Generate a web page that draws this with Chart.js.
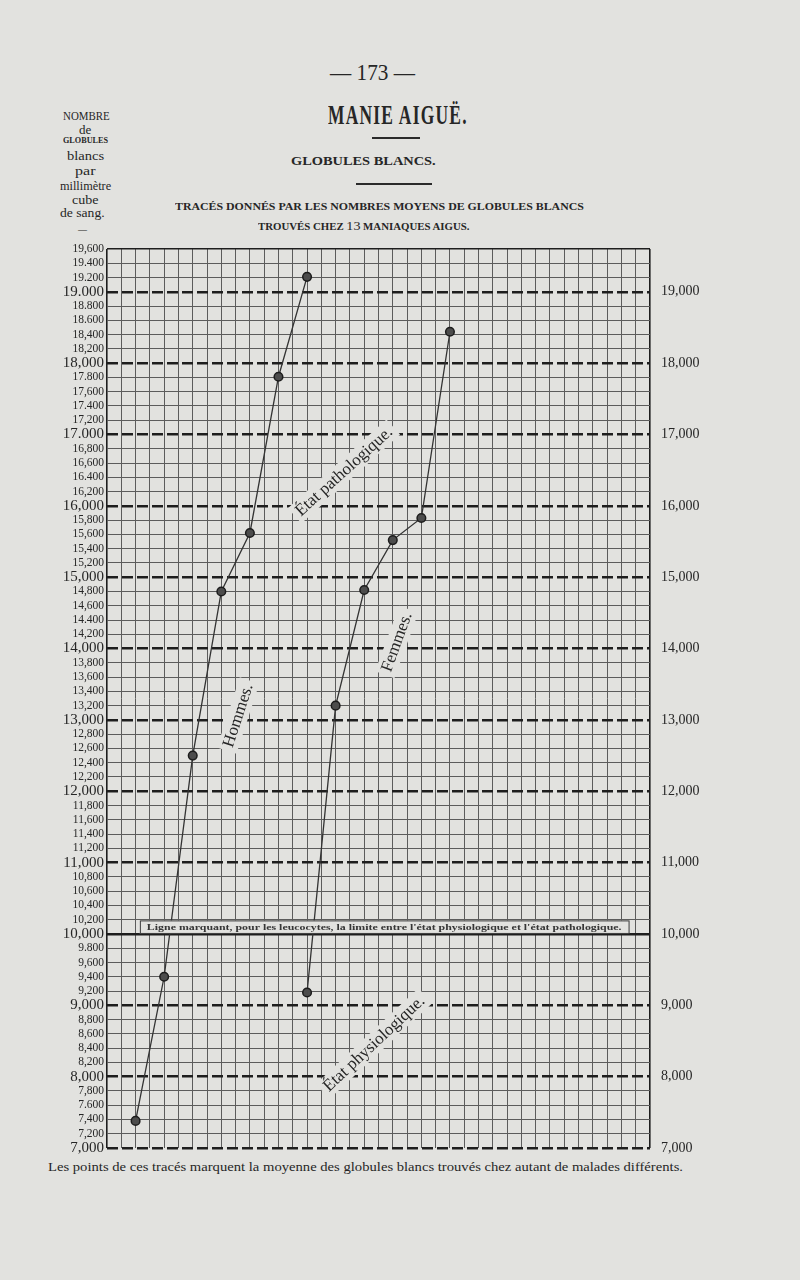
<!DOCTYPE html>
<html>
<head>
<meta charset="utf-8">
<script src="https://cdn.jsdelivr.net/npm/chart.js@4.4.0/dist/chart.umd.min.js"></script>
<style>
html, body { margin: 0; padding: 0; background: #e2e2df; }
body { width: 800px; height: 1280px; position: relative; overflow: hidden;
       font-family: "Liberation Serif", "DejaVu Serif", serif; color: #262626; }
.t { position: absolute; white-space: nowrap; line-height: 1; transform-origin: left top; }
.b { font-weight: bold; }
.rule { position: absolute; height: 1.5px; background: #2a2a2a; }
#chartBox { position: absolute; left: 0; top: 0; width: 800px; height: 1280px; }
</style>
</head>
<body>

<div class="t" data-x="330" data-y="61" data-w="85" style="font-size:23px">— 173 —</div>

<div class="t" data-x="63" data-y="109" data-w="47" style="font-size:13px">NOMBRE</div>
<div class="t" data-x="79" data-y="123" data-w="12" style="font-size:13px">de</div>
<div class="t b" data-x="63" data-y="137" data-w="45" style="font-size:8px">GLOBULES</div>
<div class="t" data-x="67" data-y="149" data-w="37" style="font-size:13px">blancs</div>
<div class="t" data-x="75" data-y="164" data-w="21" style="font-size:13px">par</div>
<div class="t" data-x="60" data-y="179" data-w="51" style="font-size:13px">millimètre</div>
<div class="t" data-x="72" data-y="193" data-w="27" style="font-size:13px">cube</div>
<div class="t" data-x="60" data-y="206" data-w="45" style="font-size:13px">de sang.</div>
<div class="t" data-x="78" data-y="223" data-w="9" style="font-size:12px">—</div>

<div class="t b" data-x="328" data-y="101" data-w="140" style="font-size:28px;letter-spacing:2px">MANIE AIGUË.</div>
<div class="rule" style="left:372px;top:137px;width:48px"></div>
<div class="t b" data-x="291" data-y="155" data-w="145" style="font-size:12px">GLOBULES BLANCS.</div>
<div class="rule" style="left:356px;top:183px;width:76px"></div>
<div class="t b" data-x="175" data-y="202" data-w="409" style="font-size:10px">TRACÉS DONNÉS PAR LES NOMBRES MOYENS DE GLOBULES BLANCS</div>
<div class="t b" data-x="258" data-y="219" data-w="212" style="font-size:10px">TROUVÉS CHEZ <span style="font-size:13px;font-weight:normal">13</span> MANIAQUES AIGUS.</div>

<div class="t" data-x="48" data-y="1160" data-w="635" style="font-size:13px">Les points de ces tracés marquent la moyenne des globules blancs trouvés chez autant de malades différents.</div>

<div id="chartBox"><canvas id="chart"></canvas></div>

<script>
// columns of the ruled paper (2 squares between each patient mean)
var hommesCols = [2, 4, 6, 8, 10, 12, 14];
var hommesValues = [7380, 9400, 12500, 14800, 15620, 17810, 19210];
var femmesCols = [14, 16, 18, 20, 22, 24];
var femmesValues = [9180, 13200, 14820, 15520, 15830, 18440];

var leftTickLabels = [
    '7,000', '7,200', '7,400', '7.600', '7,800', '8,000', '8,200', '8,400', '8,600', '8,800',
    '9,000', '9,200', '9,400', '9,600', '9.800', '10,000', '10,200', '10,400', '10,600', '10,800',
    '11,000', '11,200', '11,400', '11,600', '11,800', '12,000', '12,200', '12,400', '12,600', '12,800',
    '13,000', '13,200', '13,400', '13,600', '13,800', '14,000', '14,200', '14.400', '14,600', '14,800',
    '15,000', '15,200', '15,400', '15,600', '15,800', '16,000', '16,200', '16.400', '16,600', '16,800',
    '17.000', '17,200', '17.400', '17,600', '17.800', '18,000', '18,200', '18,400', '18.600', '18.800',
    '19.000', '19.200', '19.400', '19,600'
];
var rightTickValues = [7000, 8000, 9000, 10000, 11000, 12000, 13000, 14000, 15000, 16000, 17000, 18000, 19000];
var rightTickLabels = ['7,000', '8,000', '9,000', '10,000', '11,000', '12,000', '13,000', '14,000',
    '15,000', '16,000', '17,000', '18,000', '19,000'];

var notes = [
    {text: 'État pathologique.', col: 16.6, val: 16480, angle: -42, size: 17},
    {text: 'Hommes.', col: 9.2, val: 13060, angle: -72, size: 17},
    {text: 'Femmes.', col: 20.3, val: 14090, angle: -70, size: 17},
    {text: 'État physiologique.', col: 18.7, val: 8460, angle: -43, size: 17}
];
var limitNote = {
    text: "Ligne marquant, pour les leucocytes, la limite entre l'état physiologique et l'état pathologique.",
    fromCol: 2.3, toCol: 36.5, lowVal: 10000, highVal: 10190
};

var paper = '#e2e2df';
var ink = '#262626';
var serif = '"Liberation Serif", "DejaVu Serif", serif';

// scale each text line to its width on the page
document.querySelectorAll('.t').forEach(function (el) {
    el.style.left = el.dataset.x + 'px';
    el.style.top = el.dataset.y + 'px';
    var w = el.offsetWidth;
    if (w > 0) el.style.transform = 'scaleX(' + (el.dataset.w / w) + ')';
});

function toPoints(cols, values) {
    var pts = [];
    cols.forEach(function (c, i) { pts.push({x: c, y: values[i]}); });
    return pts;
}

var notesPlugin = {
    id: 'notes',
    afterDatasetsDraw: function (chart) {
        var ctx = chart.ctx;
        var xs = chart.scales.x, ys = chart.scales.y;
        ctx.save();
        notes.forEach(function (n) {
            ctx.save();
            ctx.translate(xs.getPixelForValue(n.col), ys.getPixelForValue(n.val));
            ctx.rotate(n.angle * Math.PI / 180);
            ctx.font = n.size + 'px ' + serif;
            var w = ctx.measureText(n.text).width;
            ctx.fillStyle = paper;
            ctx.fillRect(-w / 2 - 4, -n.size * 0.62, w + 8, n.size * 1.2);
            ctx.fillStyle = ink;
            ctx.textAlign = 'center';
            ctx.textBaseline = 'middle';
            ctx.fillText(n.text, 0, 0);
            ctx.restore();
        });

        // the boxed legend sitting on the 10,000 line
        var x0 = xs.getPixelForValue(limitNote.fromCol), x1 = xs.getPixelForValue(limitNote.toCol);
        var y0 = ys.getPixelForValue(limitNote.highVal), y1 = ys.getPixelForValue(limitNote.lowVal);
        ctx.fillStyle = paper;
        ctx.fillRect(x0, y0, x1 - x0, y1 - y0);
        ctx.strokeStyle = '#3a3a3a';
        ctx.lineWidth = 1;
        ctx.strokeRect(x0 + 0.5, y0 + 0.5, x1 - x0, y1 - y0 - 1);
        ctx.font = 'bold 9px ' + serif;
        var tw = ctx.measureText(limitNote.text).width;
        var target = (x1 - x0) - 14;
        ctx.translate((x0 + x1) / 2, (y0 + y1) / 2);
        ctx.scale(target / tw, 1);
        ctx.fillStyle = '#363636';
        ctx.textAlign = 'center';
        ctx.textBaseline = 'middle';
        ctx.fillText(limitNote.text, 0, 0);
        ctx.restore();
    }
};

var chartElement = document.getElementById('chart').getContext('2d');
var chartObject = new Chart(chartElement, {
    type: 'line',
    data: {
        datasets: [{
            label: 'Hommes',
            data: toPoints(hommesCols, hommesValues)
        }, {
            label: 'Femmes',
            data: toPoints(femmesCols, femmesValues)
        }]
    },
    options: {
        responsive: true,
        maintainAspectRatio: false,
        animation: false,
        events: [],
        layout: {padding: {top: 249, bottom: 132, left: 0, right: 0}},
        elements: {
            line: {borderColor: '#333', borderWidth: 1.3, tension: 0},
            point: {radius: 4.3, backgroundColor: '#4c4c4c', borderColor: '#1c1c1c', borderWidth: 1.5}
        },
        plugins: {legend: {display: false}, tooltip: {enabled: false}},
        scales: {
            x: {
                type: 'linear',
                min: 0,
                max: 38,
                ticks: {display: false, stepSize: 1},
                grid: {
                    drawTicks: false,
                    color: function (c) { return (c.tick.value === 0 || c.tick.value === 38) ? '#1e1e1e' : '#5c5c5c'; },
                    lineWidth: function (c) { return (c.tick.value === 0 || c.tick.value === 38) ? 1.6 : 1; }
                },
                border: {display: false},
                afterFit: function (axis) { axis.height = 0; }
            },
            y: {
                type: 'linear',
                position: 'left',
                min: 7000,
                max: 19600,
                ticks: {
                    stepSize: 200,
                    autoSkip: false,
                    padding: 3,
                    color: ink,
                    font: function (c) {
                        var major = c.tick && c.tick.value % 1000 === 0;
                        return {family: serif, size: major ? 15 : 11.5};
                    },
                    callback: function (value) {
                        return leftTickLabels[Math.round((value - 7000) / 200)];
                    }
                },
                grid: {
                    drawTicks: false,
                    color: function (c) {
                        return c.tick.value % 1000 === 0 || c.tick.value === 19600 ? '#1e1e1e' : '#5c5c5c';
                    },
                    lineWidth: function (c) {
                        if (c.tick.value === 19600) return 1.5;
                        return c.tick.value % 1000 === 0 ? 2.4 : 1;
                    }
                },
                border: {
                    display: false,
                    dash: function (c) {
                        var v = c.tick ? c.tick.value : 0;
                        return (v % 1000 === 0 && v !== 10000) ? [11, 4] : [];
                    }
                },
                afterFit: function (axis) { axis.width = 107; }
            },
            y2: {
                type: 'linear',
                position: 'right',
                min: 7000,
                max: 19600,
                afterBuildTicks: function (axis) {
                    axis.ticks = rightTickValues.map(function (v) { return {value: v}; });
                },
                ticks: {
                    autoSkip: false,
                    padding: 3,
                    color: ink,
                    font: {family: serif, size: 14},
                    callback: function (value) {
                        var i = rightTickValues.indexOf(Math.round(value));
                        return i < 0 ? '' : rightTickLabels[i];
                    }
                },
                grid: {display: false},
                border: {display: false},
                afterFit: function (axis) { axis.width = 150; }
            }
        }
    },
    plugins: [notesPlugin]
});
chartObject.update();
</script>
</body>
</html>
